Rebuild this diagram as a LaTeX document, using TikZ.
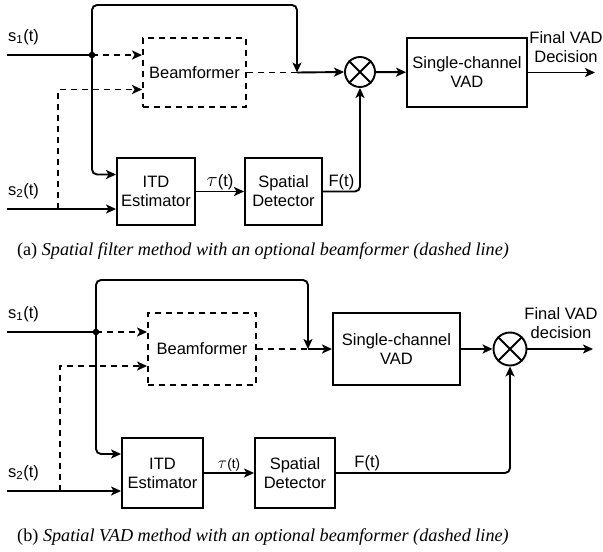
\documentclass[tikz,border=0pt]{standalone}
\usepackage{fontspec}
\setmainfont{Liberation Serif}
\setsansfont{Liberation Sans}
\usepackage{amsmath}
\usepackage{tikz}
\usetikzlibrary{arrows.meta}

\tikzset{
  blk/.style={draw, line width=1.9pt, align=center, inner sep=0pt, font=\sffamily\fontsize{16.5}{19}\selectfont},
  bfblk/.style={blk, dash pattern=on 6pt off 5pt},
  mult/.style={draw, circle, line width=1.9pt, inner sep=0pt},
  sig/.style={line width=1.9pt},
  arr/.style={sig, -{Stealth[length=10pt, width=9pt, inset=2.5pt]}},
  dsh/.style={sig, dash pattern=on 6pt off 5pt},
  lbl/.style={font=\sffamily\fontsize{16.5}{19}\selectfont, align=center, inner sep=1pt},
  capt/.style={font=\fontsize{18.2}{21}\selectfont, inner sep=0pt}
}

\begin{document}
\begin{tikzpicture}[x=1pt, y=-1pt]
    \useasboundingbox (0,0) rectangle (603,552);

    % (a) Spatial filter
    \node[bfblk, minimum width=103pt, minimum height=69pt] (bfA) at (194.5,72.5) {Beamformer};
    \node[blk, minimum width=78pt, minimum height=67pt] (itdA) at (156,191.5) {ITD\\Estimator};
    \node[blk, minimum width=77pt, minimum height=67pt] (detA) at (283.5,191.5) {Spatial\\Detector};
    \node[mult, minimum size=30pt] (mulA) at (360,72) {};
    \draw[sig] (mulA.45) -- (mulA.225) (mulA.135) -- (mulA.315);
    \node[blk, minimum width=120pt, minimum height=69pt] (scvA) at (467,72.5) {Single-channel\\VAD};

    \coordinate (s1A) at (7,55);
    \coordinate (jA) at (92,55);
    \coordinate (s2A) at (7,209);
    \coordinate (tapA) at (58,209);
    \coordinate (topA) at (297,5);
    \coordinate (mrgA) at (297,72.5);
    \coordinate (outA) at (595,72.5);

    \node[lbl, anchor=south west] (s1lA) at (7,46) {s\textsubscript{1}(t)};
    \node[lbl, anchor=south west] (s2lA) at (7,200) {s\textsubscript{2}(t)};

    \draw[sig] (s1A) -- (jA);
    \fill (jA) circle (3.3pt);
    \draw[dsh, arr] (jA) -- (jA -| bfA.west);
    \draw[dsh, arr] (tapA) |- ([yshift=-17pt]bfA.west);
    \draw[arr, rounded corners=5pt] (jA) |- (topA) -- (mrgA);
    \draw[dsh] (bfA.east) -- (mrgA);
    \draw[arr] (mrgA) -- (mulA.west);
    \draw[arr, rounded corners=5pt] (jA) |- ([yshift=17pt]itdA.west);
    \draw[arr] (s2A) -- (s2A -| itdA.west);
    \draw[arr] (itdA) -- node[lbl, above] {{\fontsize{20}{20}\selectfont$\tau$}(t)} (detA);
    \draw[arr, rounded corners=5pt] (detA.east) -| node[lbl, above, pos=0.25] {F(t)} (mulA.south);
    \draw[arr] (mulA) -- (scvA);
    \draw[arr] (scvA) -- (outA);
    \node[lbl] (finA) at (566,47) {Final VAD\\Decision};

    \node[capt] (capA) at (263,251) {(a) \textit{Spatial filter method with an optional beamformer (dashed line)}};

    % (b) Spatial VAD
    \node[bfblk, minimum width=108pt, minimum height=72pt] (bfB) at (202,349) {Beamformer};
    \node[blk, minimum width=81pt, minimum height=70pt] (itdB) at (162.5,473) {ITD\\Estimator};
    \node[blk, minimum width=80pt, minimum height=70pt] (detB) at (295,473) {Spatial\\Detector};
    \node[blk, minimum width=127pt, minimum height=72pt] (scvB) at (396.5,349) {Single-channel\\VAD};
    \node[mult, minimum size=33pt] (mulB) at (510,349) {};
    \draw[sig] (mulB.45) -- (mulB.225) (mulB.135) -- (mulB.315);

    \coordinate (s1B) at (7,332);
    \coordinate (jB) at (96,332);
    \coordinate (s2B) at (7,491);
    \coordinate (tapB) at (60,491);
    \coordinate (topB) at (308,280);
    \coordinate (mrgB) at (308,349);
    \coordinate (outB) at (593,349);

    \node[lbl, anchor=south west] (s1lB) at (7,323) {s\textsubscript{1}(t)};
    \node[lbl, anchor=south west] (s2lB) at (7,482) {s\textsubscript{2}(t)};

    \draw[sig] (s1B) -- (jB);
    \fill (jB) circle (3.3pt);
    \draw[dsh, arr] (jB) -- (jB -| bfB.west);
    \draw[dsh, arr] (tapB) |- ([yshift=-17pt]bfB.west);
    \draw[arr, rounded corners=5pt] (jB) |- (topB) -- (mrgB);
    \draw[dsh] (bfB.east) -- (mrgB);
    \draw[arr] (mrgB) -- (scvB.west);
    \draw[arr, rounded corners=5pt] (jB) |- ([yshift=19pt]itdB.west);
    \draw[arr] (s2B) -- (s2B -| itdB.west);
    \draw[arr] (itdB) -- node[lbl, above, font=\sffamily\fontsize{13.5}{15}\selectfont] {{\fontsize{16}{16}\selectfont$\tau$}(t)} (detB);
    \draw[arr, rounded corners=5pt] (detB.east) -| node[lbl, above, pos=0.09] {F(t)} (mulB.south);
    \draw[arr] (scvB) -- (mulB);
    \draw[arr] (mulB) -- (outB);
    \node[lbl] (finB) at (561,323) {Final VAD\\decision};

    \node[capt] (capB) at (263,537) {(b) \textit{Spatial VAD method with an optional beamformer (dashed line)}};
\end{tikzpicture}
\end{document}
